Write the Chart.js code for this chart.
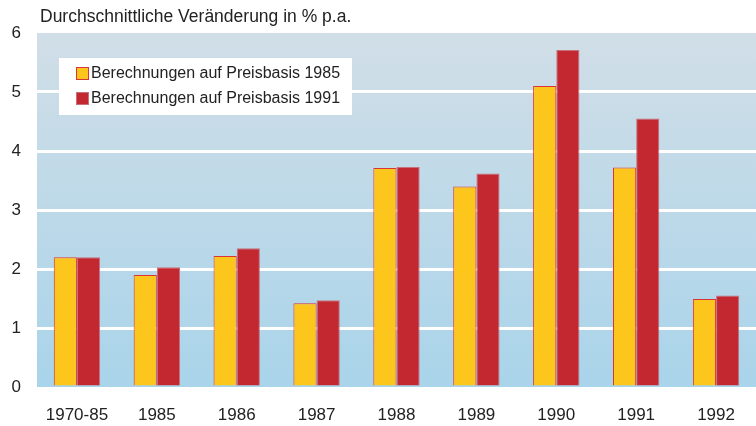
<!DOCTYPE html>
<html>
<head>
<meta charset="utf-8">
<script src="https://cdn.jsdelivr.net/npm/chart.js@4"></script>
<style>
  html, body { margin: 0; padding: 0; background: #fff; }
  #wrap { width: 756px; height: 426px; position: relative; }
</style>
</head>
<body>
<div id="wrap"><canvas id="chart"></canvas></div>
<script>
// Daten
const categories = ['1970-85', '1985', '1986', '1987', '1988', '1989', '1990', '1991', '1992'];
const basis1985 = [2.2, 1.9, 2.22, 1.42, 3.71, 3.4, 5.1, 3.72, 1.49];
const basis1991 = [2.2, 2.03, 2.35, 1.47, 3.73, 3.62, 5.71, 4.55, 1.55];
const seriesLabels = ['Berechnungen auf Preisbasis 1985', 'Berechnungen auf Preisbasis 1991'];
const yTicks = [0, 1, 2, 3, 4, 5, 6];
const titleText = 'Durchschnittliche Veränderung in % p.a.';

const FONT = '"Liberation Sans", Arial, Helvetica, sans-serif';

// Hintergrund-Verlauf im Diagrammbereich
const backgroundPlugin = {
    id: 'bgGradient',
    beforeDraw(chart) {
        const { ctx, chartArea } = chart;
        const g = ctx.createLinearGradient(0, chartArea.top, 0, chartArea.bottom);
        g.addColorStop(0, '#d1dee7');
        g.addColorStop(1, '#a9d4ea');
        ctx.save();
        ctx.fillStyle = g;
        ctx.fillRect(chartArea.left, chartArea.top, chartArea.right - chartArea.left, chartArea.bottom - chartArea.top);
        ctx.restore();
    }
};

// Titel und Legende im Diagramm
const overlayPlugin = {
    id: 'overlay',
    afterDraw(chart) {
        const { ctx, chartArea } = chart;
        ctx.save();
        ctx.fillStyle = '#222';
        ctx.font = '17.5px ' + FONT;
        ctx.textBaseline = 'middle';
        ctx.textAlign = 'left';
        ctx.fillText(titleText, chartArea.left + 3, 17);

        // Legende
        const bx = 59, by = 58, bw = 293, bh = 57;
        ctx.fillStyle = '#fff';
        ctx.fillRect(bx, by, bw, bh);
        chart.data.datasets.forEach((ds, i) => {
            const cy = by + 15 + i * 25;
            ctx.fillStyle = ds.backgroundColor;
            ctx.fillRect(bx + 17, cy - 6, 13, 13);
            ctx.strokeStyle = ds.borderColor;
            ctx.lineWidth = 1;
            ctx.strokeRect(bx + 17.5, cy - 5.5, 12, 12);
            ctx.fillStyle = '#222';
            ctx.font = '16px ' + FONT;
            ctx.fillText(ds.label, bx + 32, cy + 1);
        });
        ctx.restore();
    }
};

new Chart(document.getElementById('chart'), {
    type: 'bar',
    data: {
        labels: categories,
        datasets: [{
            label: seriesLabels[0],
            data: basis1985,
            backgroundColor: '#fcc61c',
            borderColor: '#d8343a',
            borderWidth: 1
        }, {
            label: seriesLabels[1],
            data: basis1991,
            backgroundColor: '#c3272f',
            borderColor: '#c8707a',
            borderWidth: 1
        }]
    },
    options: {
        responsive: true,
        maintainAspectRatio: false,
        animation: false,
        layout: { padding: { top: 33, right: 0, left: 0, bottom: 0 } },
        datasets: {
            bar: { categoryPercentage: 0.58, barPercentage: 1.0 }
        },
        plugins: {
            legend: { display: false },
            tooltip: { enabled: false }
        },
        scales: {
            x: {
                grid: { display: false },
                border: { display: false },
                ticks: {
                    color: '#222',
                    font: { family: FONT, size: 17 },
                    padding: 10
                },
                afterFit(scale) { scale.height = 39; }
            },
            y: {
                min: 0,
                max: 6,
                afterBuildTicks(scale) {
                    scale.ticks = yTicks.map(v => ({ value: v }));
                },
                grid: {
                    color: ctx => (ctx.tick && (ctx.tick.value === 0 || ctx.tick.value === 6)) ? 'rgba(0,0,0,0)' : '#ffffff',
                    lineWidth: 3,
                    drawTicks: false
                },
                border: { display: false },
                ticks: {
                    color: '#222',
                    font: { family: FONT, size: 17 },
                    padding: 16
                },
                afterFit(scale) { scale.width = 37; }
            }
        }
    },
    plugins: [backgroundPlugin, overlayPlugin]
});
</script>
</body>
</html>
